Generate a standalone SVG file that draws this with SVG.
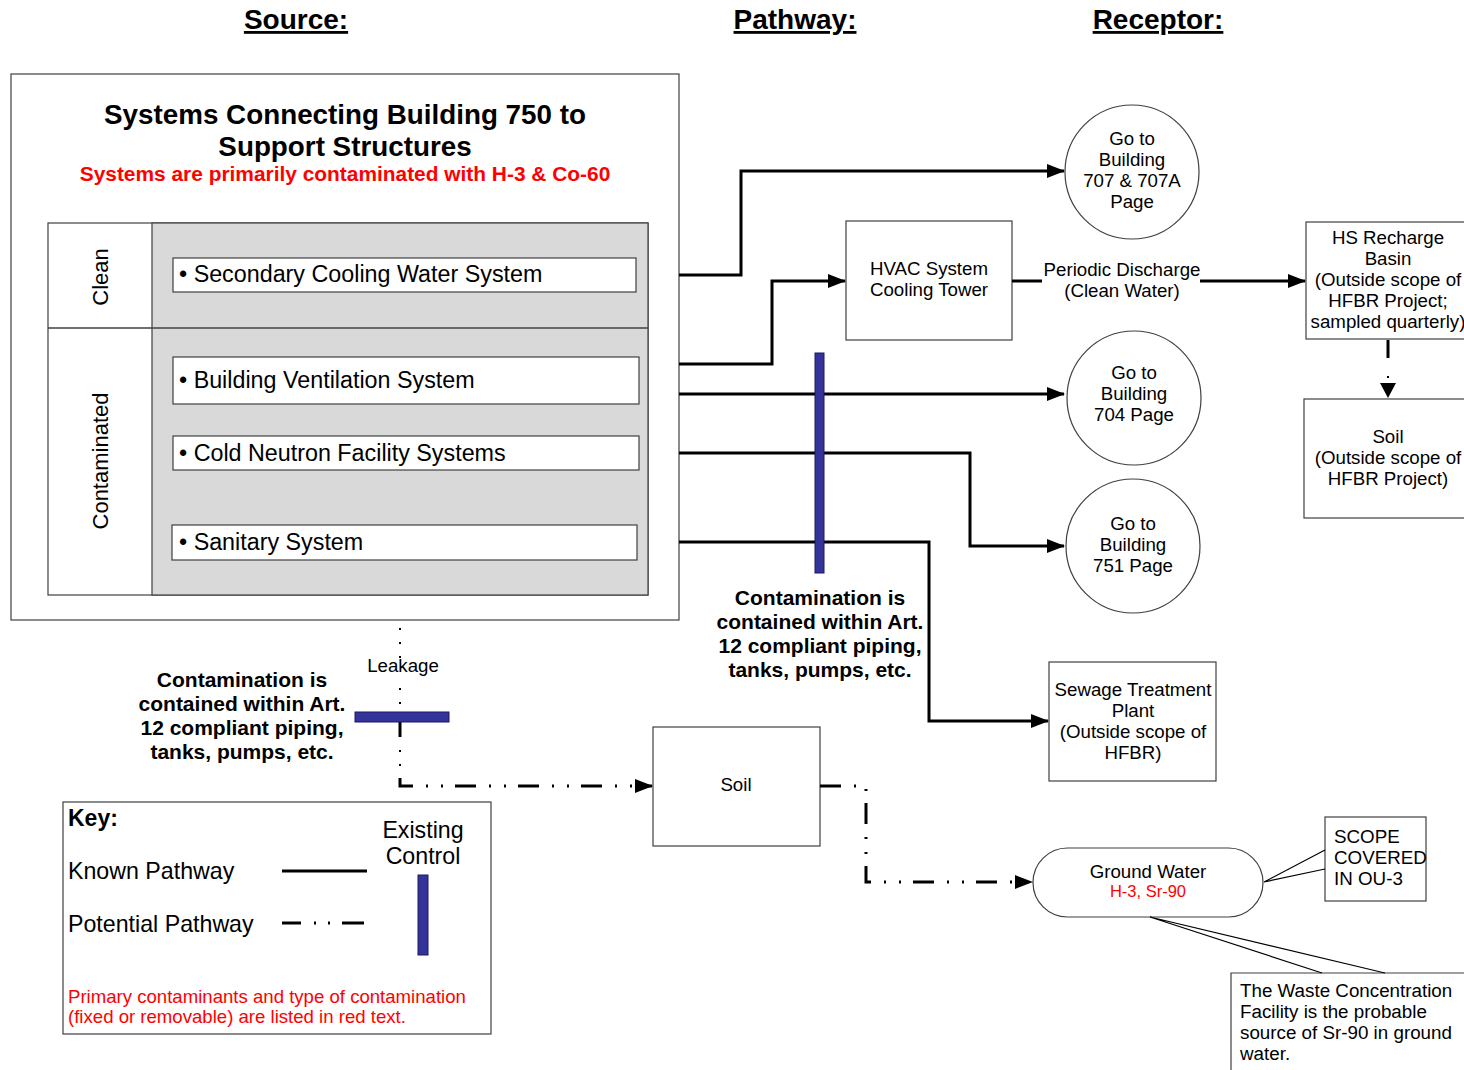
<svg xmlns="http://www.w3.org/2000/svg" width="1464" height="1070" viewBox="0 0 1464 1070">
<style>
text{font-family:"Liberation Sans",Arial,sans-serif;fill:#000}
.hdr{font-size:28px;font-weight:bold;text-decoration:underline;text-anchor:middle}
.t17{font-size:18.7px;text-anchor:middle}
.t22{font-size:23.3px}
.bold{font-weight:bold}
.red{fill:#ff0000}
.box{fill:#fff;stroke:#404040;stroke-width:1.2}
.known{fill:none;stroke:#000;stroke-width:3}
.pot{fill:none;stroke:#000;stroke-width:3;stroke-dasharray:21 13 2 13 2 12}
.dot{fill:none;stroke:#000;stroke-width:2;stroke-dasharray:2 12}
.ctrl{fill:#333399;stroke:#1a1a66;stroke-width:1}
.call{fill:none;stroke:#000;stroke-width:1.2}
.note{font-size:21px;font-weight:bold;text-anchor:middle}
</style>
<defs>
<marker id="ah" markerUnits="userSpaceOnUse" markerWidth="18" markerHeight="14" refX="17" refY="7" orient="auto">
<path d="M0,0 L18,7 L0,14 Z" fill="#000"/>
</marker>
</defs>
<rect width="1464" height="1070" fill="#fff"/>

<g id="headers">
<text class="hdr" x="296" y="29">Source:</text>
<text class="hdr" x="795" y="29">Pathway:</text>
<text class="hdr" x="1158" y="29">Receptor:</text>
</g>

<g id="source">
<rect class="box" x="11" y="74" width="668" height="546"/>
<text x="345" y="124" font-size="27.8" font-weight="bold" text-anchor="middle">Systems Connecting Building 750 to</text>
<text x="345" y="156" font-size="27.8" font-weight="bold" text-anchor="middle">Support Structures</text>
<text x="345" y="181" font-size="20.9" font-weight="bold" text-anchor="middle" class="red">Systems are primarily contaminated with H-3 &amp; Co-60</text>
<rect x="48" y="223" width="600" height="372" fill="#fff" stroke="#404040" stroke-width="1.2"/>
<rect x="152" y="223" width="496" height="372" fill="#d9d9d9" stroke="#404040" stroke-width="1.2"/>
<line x1="48" y1="328" x2="648" y2="328" stroke="#404040" stroke-width="1.5"/>
<text font-size="22" transform="translate(108,277) rotate(-90)" text-anchor="middle">Clean</text>
<text font-size="22" transform="translate(108,461) rotate(-90)" text-anchor="middle">Contaminated</text>
</g>
<g id="secondary-cooling"><rect class="box" x="173" y="258" width="463" height="34"/><text class="t22" x="179" y="282">• Secondary Cooling Water System</text></g>
<g id="building-ventilation"><rect class="box" x="173" y="357" width="466" height="47"/><text class="t22" x="179" y="388">• Building Ventilation System</text></g>
<g id="cold-neutron"><rect class="box" x="173" y="436" width="466" height="34"/><text class="t22" x="179" y="461">• Cold Neutron Facility Systems</text></g>
<g id="sanitary"><rect class="box" x="172" y="525" width="465" height="35"/><text class="t22" x="179" y="550">• Sanitary System</text></g>

<g id="hvac"><rect class="box" x="846" y="221" width="166" height="119"/><text class="t17" x="929" y="275">HVAC System</text><text class="t17" x="929" y="296">Cooling Tower</text></g>
<g id="bldg707"><circle class="box" cx="1132" cy="172" r="67"/><text class="t17" x="1132" y="145">Go to</text><text class="t17" x="1132" y="166">Building</text><text class="t17" x="1132" y="187">707 &amp; 707A</text><text class="t17" x="1132" y="208">Page</text></g>
<g id="bldg704"><circle class="box" cx="1134" cy="398" r="67"/><text class="t17" x="1134" y="379">Go to</text><text class="t17" x="1134" y="400">Building</text><text class="t17" x="1134" y="421">704 Page</text></g>
<g id="bldg751"><circle class="box" cx="1133" cy="546" r="67"/><text class="t17" x="1133" y="530">Go to</text><text class="t17" x="1133" y="551">Building</text><text class="t17" x="1133" y="572">751 Page</text></g>
<g id="hs-recharge"><rect class="box" x="1306" y="222" width="170" height="117"/><text class="t17" x="1388" y="244">HS Recharge</text><text class="t17" x="1388" y="265">Basin</text><text class="t17" x="1388" y="286">(Outside scope of</text><text class="t17" x="1388" y="307">HFBR Project;</text><text class="t17" x="1388" y="328">sampled quarterly)</text></g>
<g id="soil-right"><rect class="box" x="1304" y="399" width="170" height="119"/><text class="t17" x="1388" y="443">Soil</text><text class="t17" x="1388" y="464">(Outside scope of</text><text class="t17" x="1388" y="485">HFBR Project)</text></g>
<g id="sewage"><rect class="box" x="1049" y="662" width="167" height="119"/><text class="t17" x="1133" y="696">Sewage Treatment</text><text class="t17" x="1133" y="717">Plant</text><text class="t17" x="1133" y="738">(Outside scope of</text><text class="t17" x="1133" y="759">HFBR)</text></g>
<g id="soil-mid"><rect class="box" x="653" y="727" width="167" height="119"/><text class="t17" x="736" y="791">Soil</text></g>
<g id="groundwater"><rect class="box" x="1033" y="848" width="230" height="69" rx="34.5"/><text class="t17" x="1148" y="878">Ground Water</text><text x="1148" y="897" font-size="16.5" text-anchor="middle" class="red">H-3, Sr-90</text></g>
<g id="scope-note"><rect class="box" x="1325" y="817" width="101" height="84"/><text x="1334" y="843" font-size="18.8">SCOPE</text><text x="1334" y="864" font-size="18.8">COVERED</text><text x="1334" y="885" font-size="18.8">IN OU-3</text>
<path class="call" d="M1325,850 L1264,882 L1325,869"/></g>
<g id="waste-note"><path d="M1231,1070 L1231,973 L1476,973 L1476,1070" fill="#fff" stroke="#404040" stroke-width="1.2"/><path class="call" d="M1322,973 L1150,917 L1385,973"/><text x="1240" y="997" font-size="18.8">The Waste Concentration</text><text x="1240" y="1018" font-size="18.8">Facility is the probable</text><text x="1240" y="1039" font-size="18.8">source of Sr-90 in ground</text><text x="1240" y="1060" font-size="18.8">water.</text></g>

<g id="connectors">
<path class="known" d="M679,275 H741 V171 H1064" marker-end="url(#ah)"/>
<path class="known" d="M679,364 H772 V281 H845" marker-end="url(#ah)"/>
<path class="known" d="M679,394 H1064" marker-end="url(#ah)"/>
<path class="known" d="M679,453 H970 V546 H1064" marker-end="url(#ah)"/>
<path class="known" d="M679,542 H929 V721 H1048" marker-end="url(#ah)"/>
<path class="known" d="M1012,281 H1042"/>
<path class="known" d="M1200,281 H1305" marker-end="url(#ah)"/>
<path class="known" d="M1388,340 V358"/>
<path class="dot" d="M1388,376 V378"/>
<path d="M1380,383 L1396,383 L1388,398 Z" fill="#000"/>
<path class="dot" d="M400,628 V660"/>
<path class="dot" d="M400,688 V712"/>
<path class="known" d="M400,722 V737"/>
<path class="dot" d="M400,750 V766"/>
<path class="pot" d="M400,778 V786 H652" marker-end="url(#ah)"/>
<path class="pot" d="M820,786 H866 V882 H1032" marker-end="url(#ah)"/>
<text x="1122" y="276" font-size="18.7" text-anchor="middle">Periodic Discharge</text>
<text x="1122" y="297" font-size="18.7" text-anchor="middle">(Clean Water)</text>
<text x="403" y="672" font-size="18.7" text-anchor="middle">Leakage</text>
</g>

<g id="controls">
<rect class="ctrl" x="815" y="353" width="9" height="220"/>
<rect class="ctrl" x="355" y="712" width="94" height="10"/>
<text class="note" x="820" y="605">Contamination is</text>
<text class="note" x="820" y="629">contained within Art.</text>
<text class="note" x="820" y="653">12 compliant piping,</text>
<text class="note" x="820" y="677">tanks, pumps, etc.</text>
<text class="note" x="242" y="687">Contamination is</text>
<text class="note" x="242" y="711">contained within Art.</text>
<text class="note" x="242" y="735">12 compliant piping,</text>
<text class="note" x="242" y="759">tanks, pumps, etc.</text>
</g>

<g id="key">
<rect class="box" x="63" y="802" width="428" height="232"/>
<text x="68" y="826" font-size="23" font-weight="bold">Key:</text>
<text x="68" y="879" font-size="23.2">Known Pathway</text>
<text x="68" y="932" font-size="23.2">Potential Pathway</text>
<text x="423" y="838" font-size="23.2" text-anchor="middle">Existing</text>
<text x="423" y="864" font-size="23.2" text-anchor="middle">Control</text>
<line x1="282" y1="871" x2="367" y2="871" stroke="#000" stroke-width="3"/>
<path d="M282,923 H364" fill="none" stroke="#000" stroke-width="3" stroke-dasharray="19 13 2 12 2 12 22"/>
<rect class="ctrl" x="418" y="875" width="10" height="80"/>
<text x="68" y="1003" font-size="18.6" class="red">Primary contaminants and type of contamination</text>
<text x="68" y="1023" font-size="18.6" class="red">(fixed or removable) are listed in red text.</text>
</g>
</svg>
